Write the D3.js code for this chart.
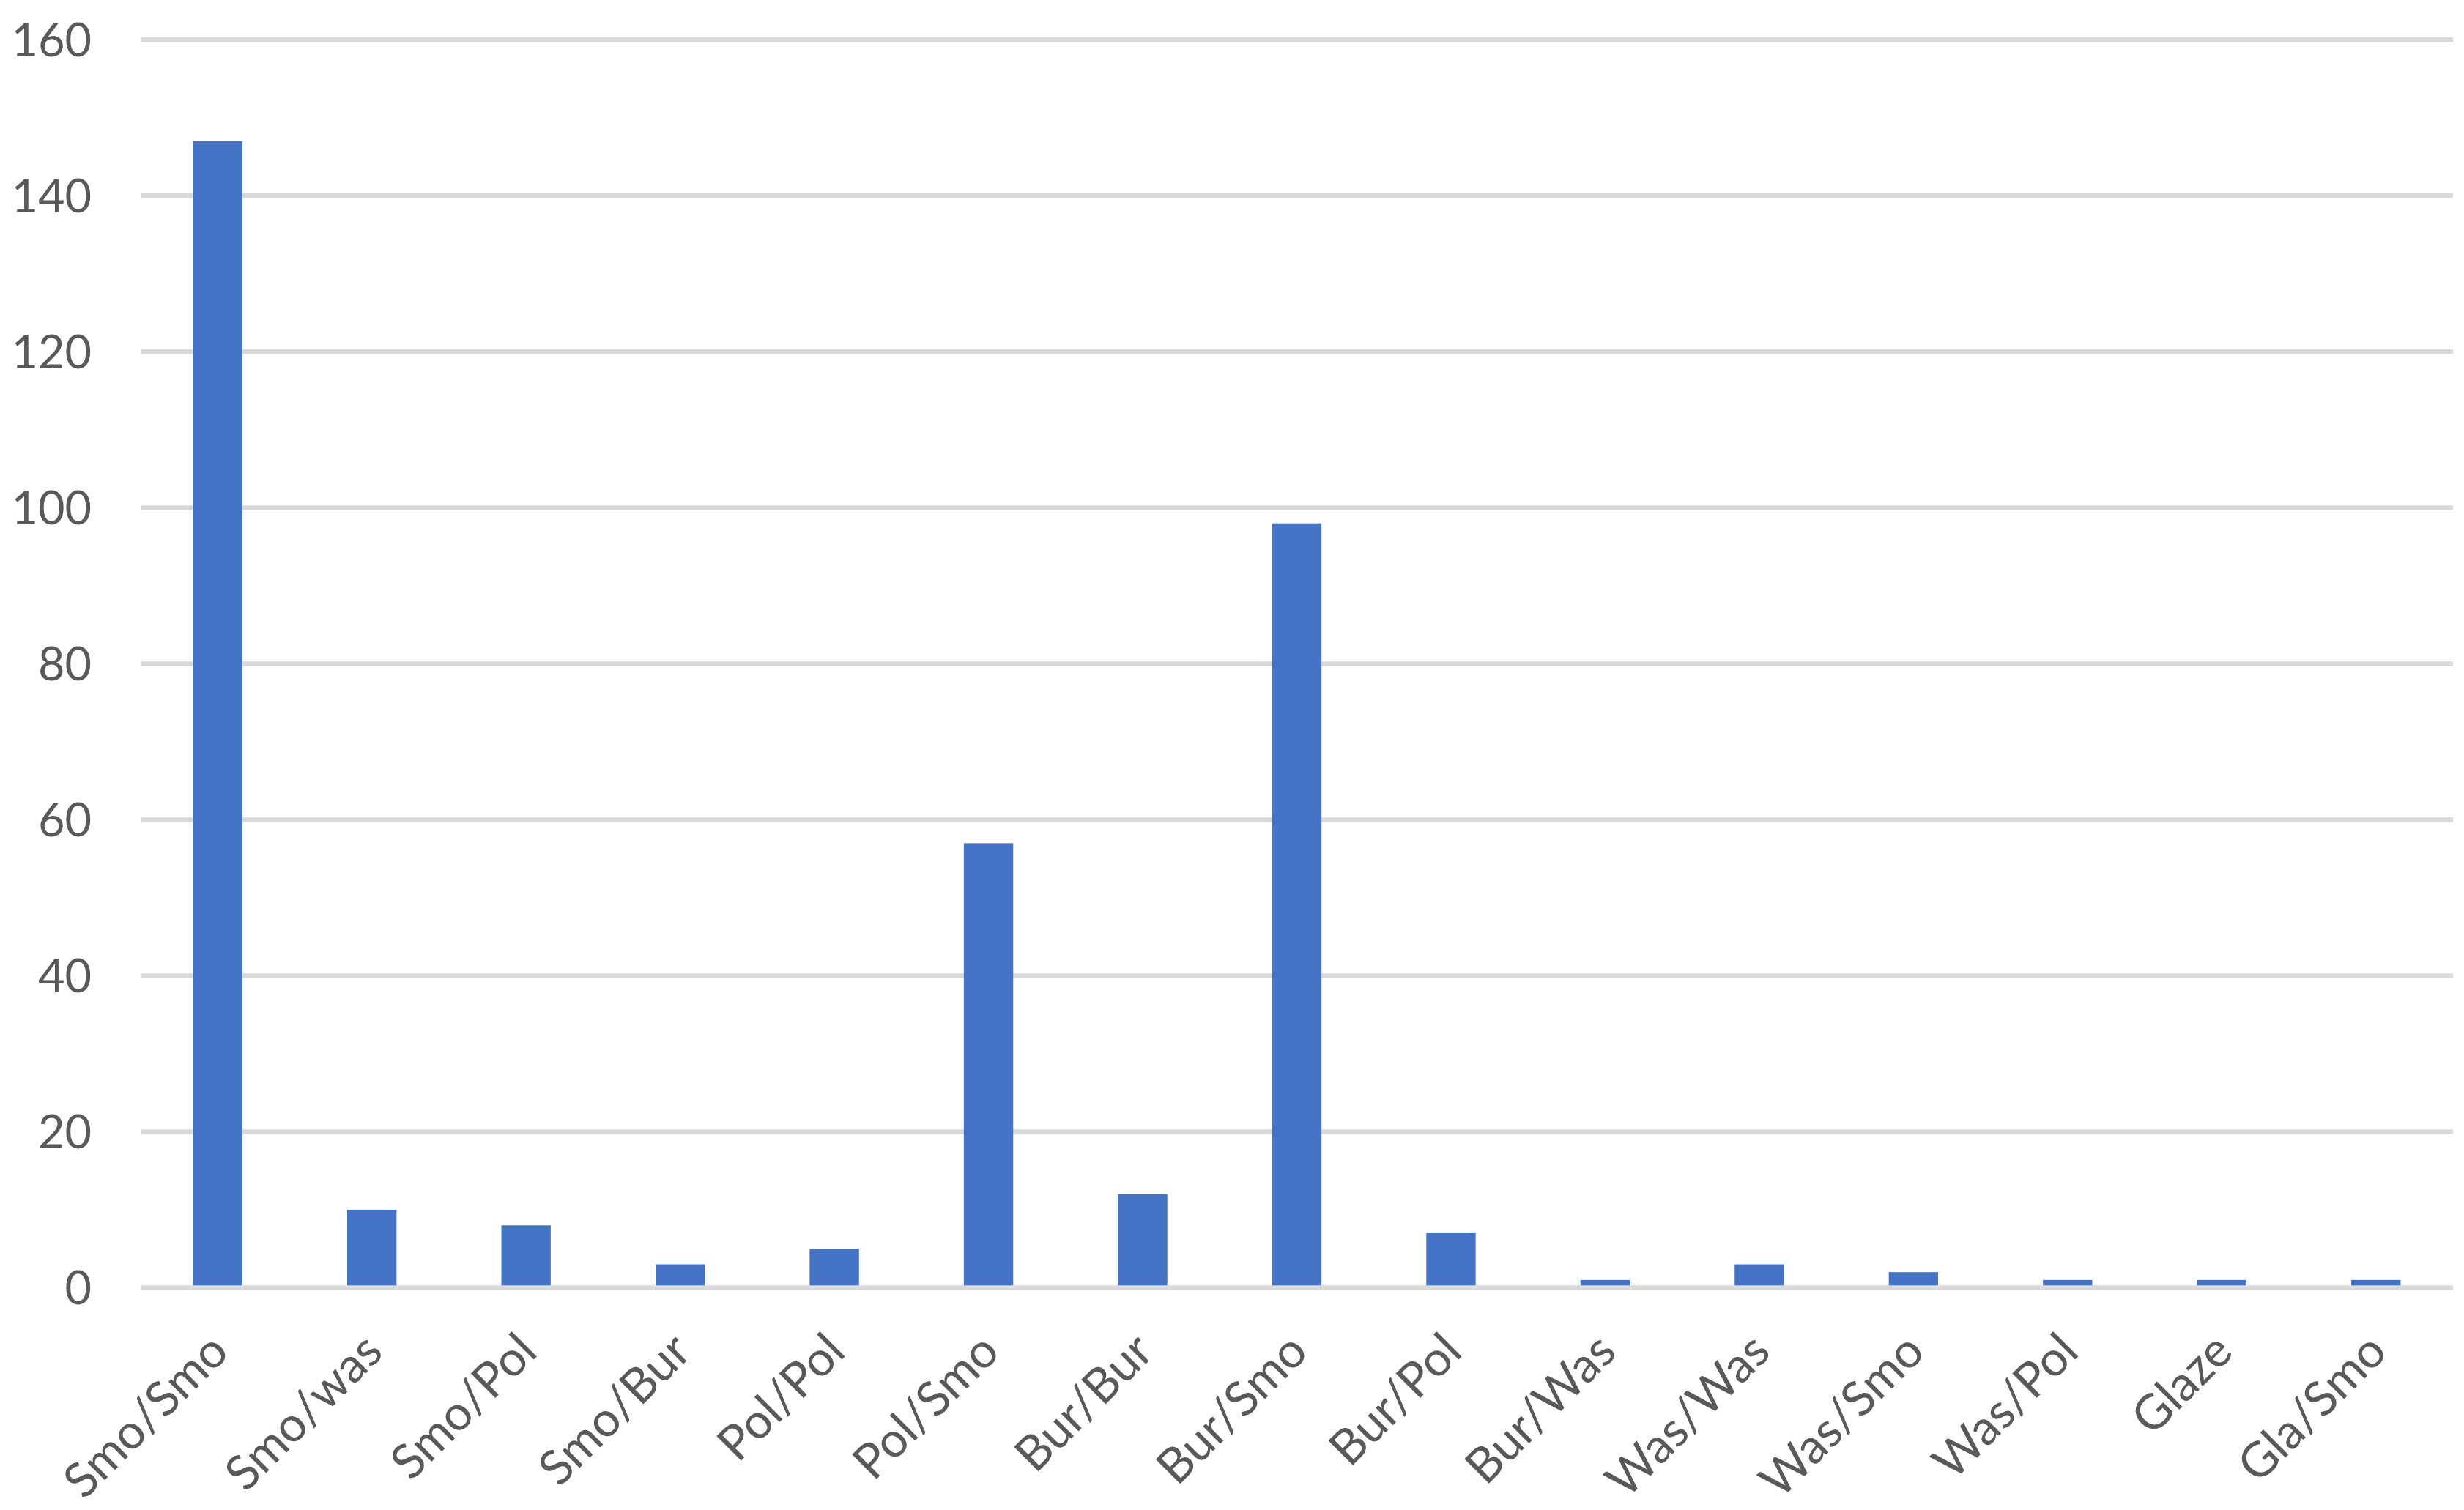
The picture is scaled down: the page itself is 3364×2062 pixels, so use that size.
<!DOCTYPE html>
<html>
<head>
<meta charset="utf-8">
<script src="https://cdn.jsdelivr.net/npm/d3@7"></script>
<style>
    html, body { margin: 0; padding: 0; background: #fff; }
    svg text { font-family: Lato, "Open Sans", sans-serif; fill: #595959; }
</style>
</head>
<body>
<div id="chart"></div>
<script>
// surface finish combinations
var categories = ["Smo/Smo", "Smo/was", "Smo/Pol", "Smo/Bur", "Pol/Pol", "Pol/Smo", "Bur/Bur",
    "Bur/Smo", "Bur/Pol", "Bur/Was", "Was/Was", "Was/Smo", "Was/Pol", "Glaze", "Gla/Smo"];
var counts = [147, 10, 8, 3, 5, 57, 12, 98, 7, 1, 3, 2, 1, 1, 1];
var yTicks = [0, 20, 40, 60, 80, 100, 120, 140, 160];

var W = 3364, H = 2062;
var plot = {left: 192, right: 3349, top: 54.3, bottom: 1758.5};

var svg = d3.select("#chart").append("svg")
    .attr("width", W)
    .attr("height", H);

svg.append("rect").attr("width", W).attr("height", H).attr("fill", "#fff");

var x = d3.scaleBand()
    .domain(categories)
    .range([plot.left, plot.right])
    .paddingInner(0.68)
    .paddingOuter(0.34);

var y = d3.scaleLinear()
    .domain([0, 160])
    .range([plot.bottom, plot.top]);

// gridlines
svg.append("g").selectAll("line")
    .data(yTicks.filter(function(d) { return d > 0; }))
    .enter().append("line")
    .attr("x1", plot.left)
    .attr("x2", plot.right)
    .attr("y1", function(d) { return y(d); })
    .attr("y2", function(d) { return y(d); })
    .attr("stroke", "#d9d9d9")
    .attr("stroke-width", 6.5);

// bars
svg.append("g").selectAll("rect")
    .data(counts)
    .enter().append("rect")
    .attr("x", function(d, i) { return x(categories[i]); })
    .attr("width", x.bandwidth())
    .attr("y", function(d) { return y(d); })
    .attr("height", function(d) { return y(0) - y(d); })
    .attr("fill", "#4472c4");

// x axis line on top
svg.append("line")
    .attr("x1", plot.left)
    .attr("x2", plot.right)
    .attr("y1", y(0))
    .attr("y2", y(0))
    .attr("stroke", "#d9d9d9")
    .attr("stroke-width", 6.5);

// y tick labels
svg.append("g").selectAll("text")
    .data(yTicks)
    .enter().append("text")
    .attr("x", 125)
    .attr("y", function(d) { return y(d); })
    .attr("dy", "0.36em")
    .attr("text-anchor", "end")
    .style("font-size", "63px")
    .text(function(d) { return d; });

// x labels, rotated
svg.append("g").selectAll("text")
    .data(categories)
    .enter().append("text")
    .attr("text-anchor", "end")
    .style("font-size", "66px")
    .attr("transform", function(d) {
        var cx = x(d) + x.bandwidth() / 2 + 18;
        return "translate(" + cx + ",1849) rotate(-45)";
    })
    .text(function(d) { return d; });
</script>
</body>
</html>
